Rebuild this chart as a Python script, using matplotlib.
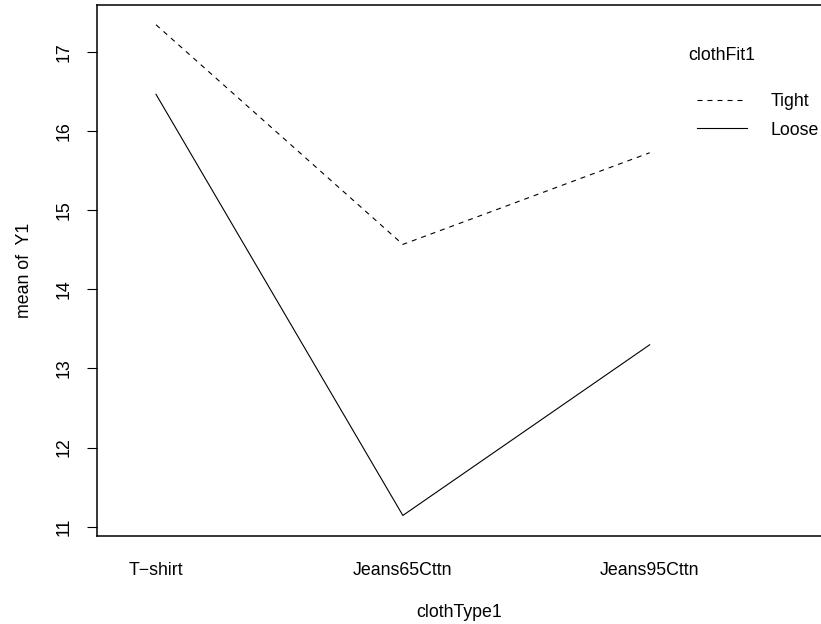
import matplotlib
matplotlib.use("Agg")
import matplotlib.pyplot as plt

# interaction plot: mean of Y1 by cloth type and fit
cloth_types = ["T\u2212shirt", "Jeans65Cttn", "Jeans95Cttn"]
fits = ["Tight", "Loose"]
tight_means = [17.35, 14.57, 15.73]
loose_means = [16.47, 11.14, 13.30]

plt.rcParams['font.family'] = ['Liberation Sans', 'DejaVu Sans']
plt.rcParams['font.size'] = 12.8

fig = plt.figure(figsize=(8.21, 6.24), dpi=100)
ax = fig.add_axes([96.5/821, 1-536/624, 726/821, 531/624])

x = [1, 2, 3]
ax.plot(x, tight_means, color='black', lw=0.8, linestyle=(0, (4.5, 4.5)), label=fits[0])
ax.plot(x, loose_means, color='black', lw=0.8, linestyle='-', label=fits[1])

ax.set_xlim(0.759, 3.70)
ax.set_ylim(10.88, 17.60)
ax.set_xticks(x)
ax.set_xticklabels(cloth_types)
ax.set_yticks([11, 12, 13, 14, 15, 16, 17])
ax.tick_params(axis='x', length=0, pad=19)
ax.tick_params(axis='y', length=7.5, width=0.8, pad=10)
for lab in ax.get_yticklabels():
    lab.set_rotation(90)
    lab.set_va('center')

for s in ax.spines.values():
    s.set_linewidth(1.1)
ax.spines['right'].set_visible(False)

ax.set_xlabel("clothType1", labelpad=18)
ax.set_ylabel("mean of  Y1", labelpad=16)

# legend title drawn separately, like R's interaction.plot
fig.text(722/821, 1-56/624, "clothFit1", ha='center', va='center')
ax.legend(frameon=False, loc='upper left',
          bbox_to_anchor=(697/821, 1-93/624), bbox_transform=fig.transFigure,
          handlelength=2.8, handletextpad=1.35, labelspacing=0.65, borderpad=0,
          borderaxespad=0)

fig.savefig("out.png", dpi=100)
